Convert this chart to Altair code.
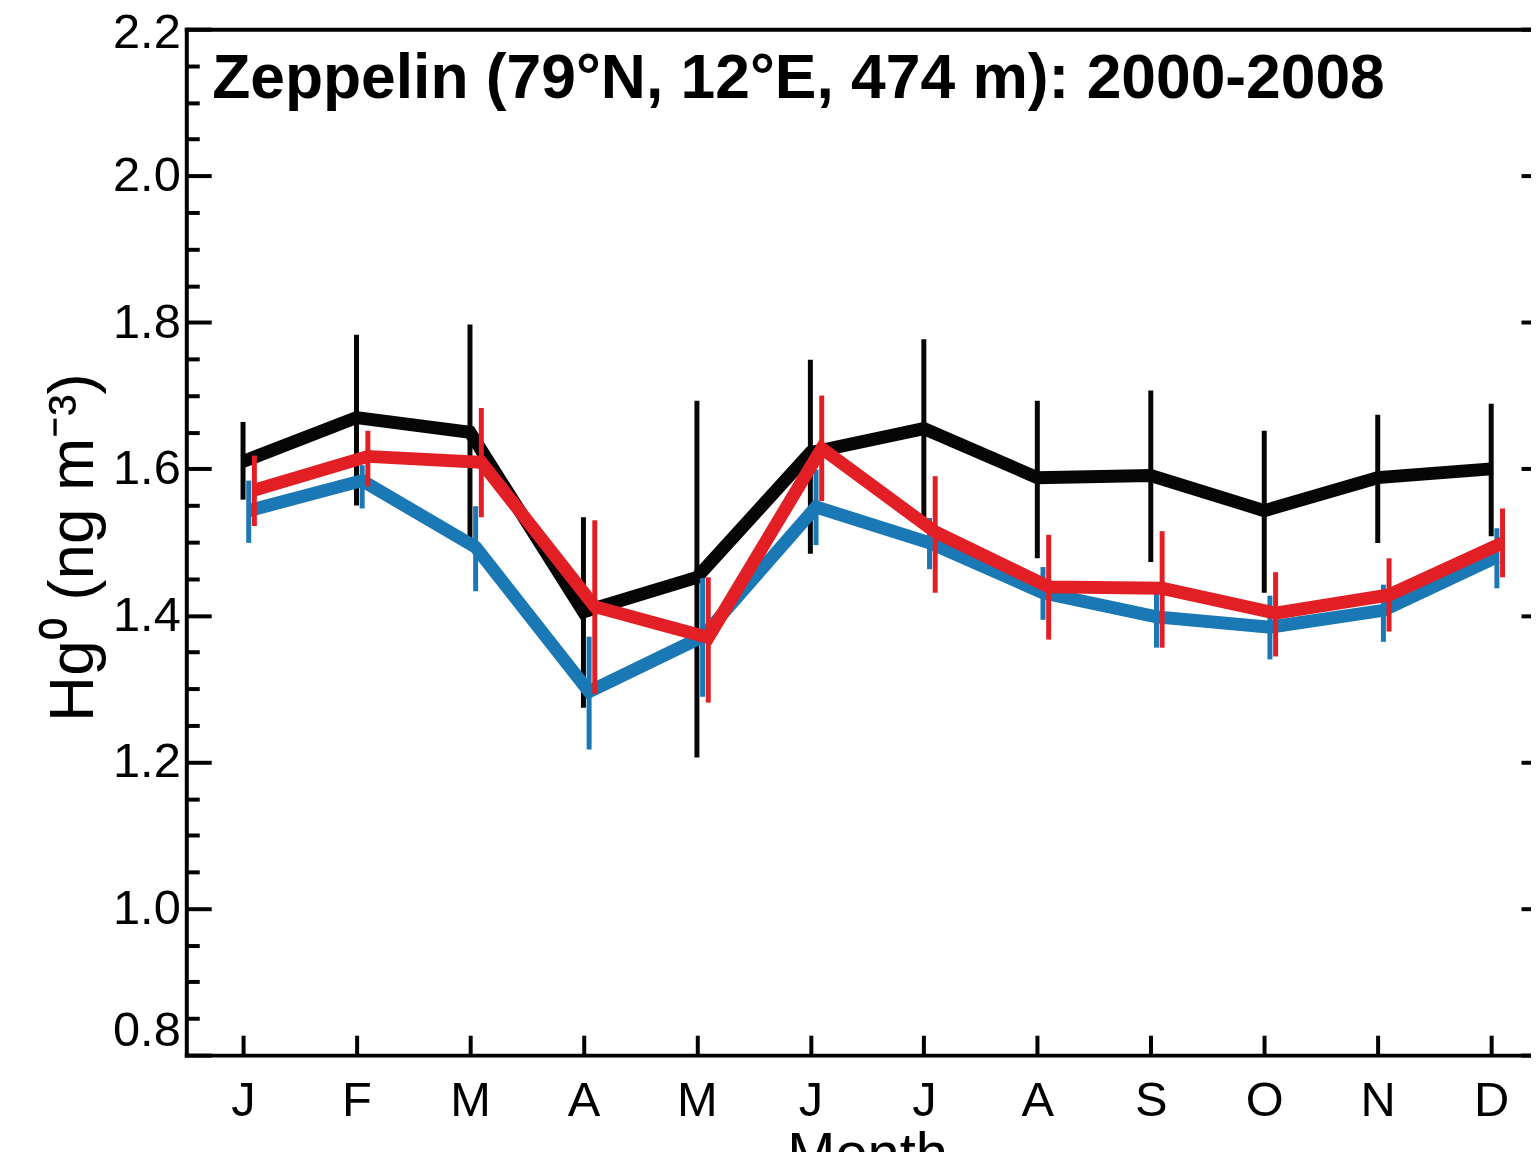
import json
import altair as alt
import numpy as np
import pandas as pd

# ---------------- data ----------------
MONTHS = list(range(1, 13))
MONTH_LABELS = ["J", "F", "M", "A", "M", "J", "J", "A", "S", "O", "N", "D"]

SERIES = ["Observations", "Model B", "Model A"]  # drawing order: black, blue, red

obs_mean = [1.610, 1.670, 1.650, 1.405, 1.452, 1.622, 1.655, 1.588, 1.591, 1.543, 1.588, 1.600]
obs_lo = [1.558, 1.550, 1.503, 1.274, 1.206, 1.484, 1.530, 1.478, 1.473, 1.431, 1.499, 1.508]
obs_hi = [1.664, 1.783, 1.797, 1.534, 1.693, 1.749, 1.777, 1.693, 1.707, 1.652, 1.674, 1.689]

blue_mean = [1.543, 1.584, 1.493, 1.296, 1.371, 1.548, 1.499, 1.431, 1.398, 1.384, 1.407, 1.480]
blue_lo = [1.499, 1.546, 1.433, 1.217, 1.289, 1.496, 1.463, 1.394, 1.356, 1.340, 1.364, 1.437]
blue_hi = [1.584, 1.605, 1.549, 1.371, 1.451, 1.599, 1.533, 1.466, 1.440, 1.427, 1.442, 1.519]

red_mean = [1.571, 1.617, 1.609, 1.412, 1.370, 1.628, 1.514, 1.439, 1.437, 1.403, 1.428, 1.499]
red_lo = [1.522, 1.576, 1.534, 1.293, 1.281, 1.556, 1.431, 1.367, 1.356, 1.344, 1.378, 1.452]
red_hi = [1.618, 1.652, 1.683, 1.530, 1.452, 1.700, 1.590, 1.510, 1.515, 1.459, 1.478, 1.546]

TITLE = "Zeppelin (79°N, 12°E, 474 m): 2000-2008"
Y_TITLE = "Hg⁰ (ng m⁻³)"
X_TITLE = "Month"

# ---------------- styles ----------------
COLORS = {"Observations": "#060606", "Model B": "#1a78b5", "Model A": "#e31f26"}
X_SHIFT = {"Observations": 0.0, "Model B": 0.05, "Model A": 0.10}
FONT = "Liberation Sans"

frames = []
for name, m, lo, hi in [
    ("Observations", obs_mean, obs_lo, obs_hi),
    ("Model B", blue_mean, blue_lo, blue_hi),
    ("Model A", red_mean, red_lo, red_hi),
]:
    frames.append(pd.DataFrame({"series": name, "month": MONTHS, "mean": m, "lo": lo, "hi": hi}))
df = pd.concat(frames, ignore_index=True)

Y_MAJOR = [round(v, 2) for v in np.arange(0.8, 2.2001, 0.2)]
Y_MINOR = [round(v, 2) for v in np.arange(0.8, 2.2001, 0.05) if not any(abs(v - t) < 1e-6 for t in Y_MAJOR)]

X_SCALE = alt.Scale(domain=[0.5, 12.5], nice=False, zero=False)
Y_SCALE = alt.Scale(domain=[0.8, 2.2], nice=False, zero=False)

label_expr = json.dumps(MONTH_LABELS) + "[datum.value - 1]"

# ---------------- axes ----------------
ax_x_labels = alt.Axis(orient="bottom", values=MONTHS, labelExpr=label_expr, ticks=False,
                       domain=True, labelPadding=22, labelFontSize=49, title=X_TITLE,
                       titleFontSize=58, titleY=118, titleBaseline="alphabetic")
ax_x_ticks = alt.Axis(orient="bottom", values=MONTHS, offset=-20, tickSize=20, labels=False,
                      domain=False, title="")
ax_x_top = alt.Axis(orient="top", ticks=False, labels=False, domain=True, title="")

ax_y_labels = alt.Axis(orient="left", values=Y_MAJOR, format=".1f", ticks=False, domain=True,
                       labelPadding=6, labelFontSize=49,
                       labelBaseline={"condition": {"test": "datum.value < 0.85", "value": "bottom"},
                                      "value": "middle"},
                       labelOffset={"condition": {"test": "datum.value > 2.15", "value": 3},
                                    "value": 0},
                       title=Y_TITLE, titleFontSize=64, titleAngle=270, titleX=-94, titleY=520,
                       titleBaseline="alphabetic", titleAlign="center")
ax_y_major = alt.Axis(orient="left", values=Y_MAJOR, offset=-25, tickSize=25, labels=False,
                      domain=False, title="")
ax_y_minor = alt.Axis(orient="left", values=Y_MINOR, offset=-13, tickSize=13, labels=False,
                      domain=False, title="")
ax_y_right = alt.Axis(orient="right", values=Y_MAJOR, offset=-27, tickSize=27, labels=False,
                      domain=False, title="")

AXES = {
    "Observations": [(ax_x_labels, ax_y_labels), (ax_x_ticks, ax_y_major)],
    "Model B": [(ax_x_top, ax_y_minor), (None, ax_y_right)],
    "Model A": [(None, None), (None, None)],
}


def xenc(axis):
    if axis is None:
        return alt.X("xpos:Q", scale=X_SCALE, axis=None)
    return alt.X("xpos:Q", scale=X_SCALE, axis=axis)


def yenc(field, axis):
    if axis is None:
        return alt.Y(f"{field}:Q", scale=Y_SCALE, axis=None)
    return alt.Y(f"{field}:Q", scale=Y_SCALE, axis=axis)


layers = []
for name in SERIES:
    base = alt.Chart(df).transform_filter(f"datum.series == '{name}'").transform_calculate(
        xpos=f"datum.month + {X_SHIFT[name]}"
    )
    (lx, ly), (bx, by) = AXES[name]
    line = base.mark_line(color=COLORS[name], strokeWidth=13, strokeJoin="miter",
                          strokeCap="butt").encode(x=xenc(lx), y=yenc("mean", ly),
                                                   order="month:Q")
    bars = base.mark_rule(color=COLORS[name], strokeWidth=5).encode(
        x=xenc(bx), y=yenc("lo", by), y2="hi:Q")
    layers += [line, bars]

title_df = pd.DataFrame({"t": [TITLE]})
title_layer = alt.Chart(title_df).mark_text(font=FONT, fontWeight="bold", fontSize=62.6,
                                            align="left", baseline="alphabetic",
                                            color="black").encode(
    x=alt.value(26), y=alt.value(69), text="t:N")
layers.append(title_layer)

chart = (
    alt.layer(*layers)
    .resolve_axis(x="independent", y="independent")
    .properties(width=1367, height=1030,
                autosize=alt.AutoSizeParams(type="none"),
                padding={"left": 179, "top": 19, "right": -17, "bottom": 95},
                background="white")
    .configure_view(strokeWidth=0)
    .configure_axis(labelFont=FONT, titleFont=FONT, labelColor="black", titleColor="black",
                    domainColor="black", tickColor="black", domainWidth=4, tickWidth=4,
                    grid=False, titleFontWeight="normal", labelFlush=False, labelOverlap=False,
                    domainCap="square")
)

chart.save("out.html", embed_options={"renderer": "svg", "actions": False})
